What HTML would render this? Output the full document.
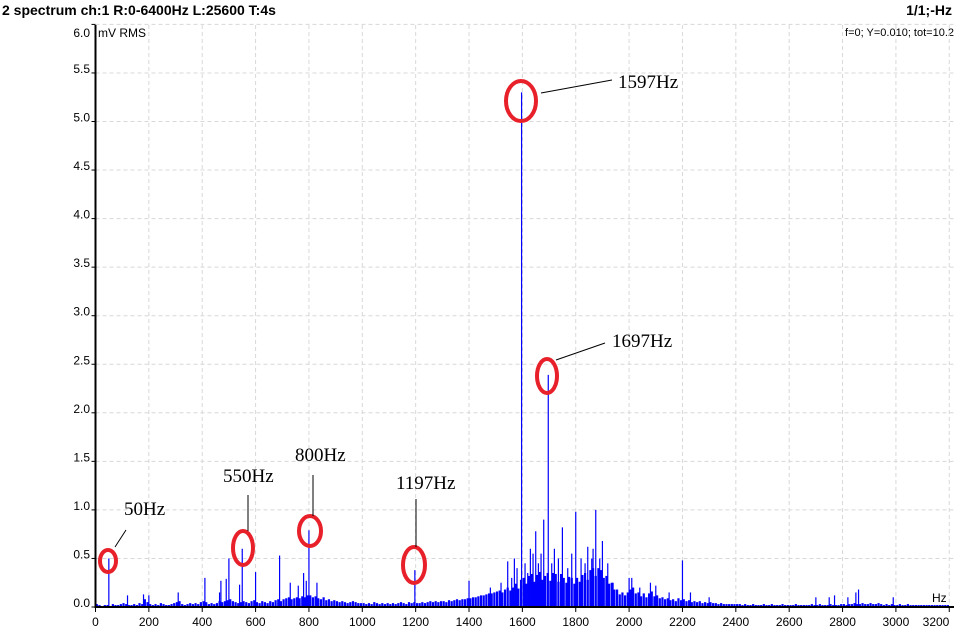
<!DOCTYPE html>
<html><head><meta charset="utf-8"><style>
html,body{margin:0;padding:0;background:#fff;}
svg{display:block;font-family:"Liberation Sans",sans-serif;}
</style></head><body>
<svg id="chart" width="954" height="628" viewBox="0 0 954 628" xmlns="http://www.w3.org/2000/svg">
<text x="2" y="15" font-size="14" font-weight="bold">2 spectrum ch:1 R:0-6400Hz L:25600 T:4s</text>
<text x="952" y="15" font-size="14" font-weight="bold" text-anchor="end">1/1;-Hz</text>
<text x="954" y="36" font-size="11" text-anchor="end">f=0; Y=0.010; tot=10.2</text>
<g id="grid"></g>
<g id="bars"></g>
<g id="axes"></g>
<text x="98" y="37" font-size="12">mV RMS</text>
<text x="932" y="602" font-size="12">Hz</text>
<g fill="none" stroke="#e8202a" stroke-width="4">
<ellipse cx="108" cy="561" rx="8" ry="11"/>
<ellipse cx="243" cy="548" rx="10" ry="17"/>
<ellipse cx="310" cy="531" rx="11" ry="15"/>
<ellipse cx="414" cy="565" rx="11" ry="18"/>
<ellipse cx="521" cy="101" rx="15" ry="20"/>
<ellipse cx="547" cy="376" rx="10" ry="17"/>
</g>
<g stroke="#000" stroke-width="1">
<line x1="115" y1="547" x2="126" y2="530"/>
<line x1="248" y1="531" x2="248" y2="495"/>
<line x1="313" y1="516" x2="313" y2="475"/>
<line x1="416" y1="547" x2="416" y2="499"/>
<line x1="541" y1="93" x2="612" y2="80"/>
<line x1="556" y1="360" x2="605" y2="343"/>
</g>
<g font-family="'Liberation Serif',serif" font-size="19">
<text x="124" y="515">50Hz</text>
<text x="223" y="482">550Hz</text>
<text x="295" y="461">800Hz</text>
<text x="396" y="489">1197Hz</text>
<text x="618" y="88">1597Hz</text>
<text x="612" y="347">1697Hz</text>
</g>
</svg>
<script>
// noise floor, hundredths of mV, one value per 10 Hz bin from 0 Hz
const noiseFloor = [
3,2,1,2,2,1,3,2,2,3, 4,3,2,2,3,2,4,3,8,5, 3,2,3,2,4,3,2,2,3,4, 5,6,3,2,3,4,3,4,3,5,
6,5,3,4,3,4,6,5,6,7, 8,6,5,4,5,6,5,4,6,7, 5,4,6,5,4,6,5,7,8,6, 8,9,10,8,9,10,9,11,10,12,
12,10,11,9,8,10,7,8,6,7, 6,5,6,5,4,5,6,5,4,4, 4,3,4,3,5,4,3,4,3,4, 3,4,3,4,5,4,3,5,4,5,
4,4,5,4,5,6,5,6,5,6, 6,5,7,6,7,8,7,8,8,9, 9,10,10,11,12,12,13,14,14,15, 16,17,15,18,20,17,20,24,19,28,
30,24,32,34,26,33,36,28,32,35, 27,35,34,26,34,30,25,31,30,24, 30,26,33,35,28,38,40,32,40,38, 30,32,24,25,18,18,13,15,12,15,
18,20,14,15,11,14,10,14,16,11, 12,9,10,8,9,7,8,6,9,7, 8,6,7,5,6,5,6,4,5,4, 5,4,4,3,4,3,3,3,3,3,
3,3,2,3,2,2,3,2,2,2, 3,2,2,3,2,2,2,3,2,2, 2,2,3,2,2,2,2,2,3,2, 2,3,2,2,2,3,2,2,2,3,
3,2,3,3,4,3,3,4,3,3, 4,3,3,4,3,2,3,2,3,2, 2,3,2,2,3,2,2,2,2,2, 2,2,2,2,2,2,2,2,2,2];
// discrete peaks
const peakHz = [50,120,180,200,310,410,465,470,490,500,540,550,600,690,730,760,780,790,800,830,1197,1400,1480,1520,1545,1560,1570,1580,1597,1610,1620,1630,1640,1650,1660,1670,1680,1697,1710,1720,1735,1750,1770,1785,1800,1820,1835,1845,1860,1865,1875,1890,1900,1920,1940,2000,2010,2040,2080,2100,2150,2200,2230,2300,2700,2750,2770,2820,2850,2860,2990];
const peakVal = [0.5,0.12,0.13,0.12,0.15,0.3,0.15,0.27,0.29,0.5,0.23,0.6,0.36,0.53,0.25,0.22,0.35,0.27,0.79,0.25,0.38,0.27,0.2,0.25,0.47,0.3,0.5,0.4,5.3,0.45,0.35,0.6,0.55,0.78,0.45,0.55,0.9,2.39,0.45,0.6,0.5,0.82,0.4,0.55,0.98,0.5,0.45,0.62,0.5,0.6,1.0,0.5,0.68,0.45,0.25,0.3,0.3,0.2,0.25,0.22,0.15,0.48,0.15,0.1,0.1,0.1,0.12,0.1,0.15,0.18,0.1];
const xTicks = [0,200,400,600,800,1000,1200,1400,1600,1800,2000,2200,2400,2600,2800,3000,3200];
const yTicks = [0,0.5,1,1.5,2,2.5,3,3.5,4,4.5,5,5.5,6];
const yTickLabels = ["0.0","0.5","1.0","1.5","2.0","2.5","3.0","3.5","4.0","4.5","5.0","5.5","6.0"];

const NS='http://www.w3.org/2000/svg';
const X0=95.5, XS=0.2668, Y0=607, YS=97.1;
function xPos(hz){return X0+hz*XS;}
function yPos(v){return Y0-v*YS;}
function mk(tag,attrs,parent){const e=document.createElementNS(NS,tag);for(const k in attrs)e.setAttribute(k,attrs[k]);parent.appendChild(e);return e;}
const grid=document.getElementById('grid'),bars=document.getElementById('bars'),axes=document.getElementById('axes');

xTicks.forEach(t=>{
  if(t>0){const l=mk('line',{x1:xPos(t),x2:xPos(t),y1:25,y2:Y0,stroke:'#d8d8d8','stroke-dasharray':'4,3'},grid);
  
  }
  const tk=mk('line',{x1:xPos(t),x2:xPos(t),y1:Y0,y2:Y0+5,stroke:'#000'},axes);
  
  
  const tx=mk('text',{x:Math.min(xPos(t),936),y:626,'font-size':12,'text-anchor':'middle'},axes);
  tx.textContent=t;
  
  
});
yTicks.forEach((t,i)=>{
  if(t>0){const l=mk('line',{x1:X0,x2:954,y1:yPos(t),y2:yPos(t),stroke:'#d8d8d8','stroke-dasharray':'4,3'},grid);
  
  }
  const tk=mk('line',{x1:X0-4,x2:X0,y1:yPos(t),y2:yPos(t),stroke:'#000'},axes);
  
  
  const ty=(t===6)?37:yPos(t);
  const tx=mk('text',{x:90,y:ty,'font-size':12,'text-anchor':'end'},axes);
  tx.textContent=yTickLabels[i];
  
  
});
noiseFloor.forEach((v,i)=>{
  const x=xPos(i*10+5);
  const b=mk('line',{x1:x,x2:x,y1:Y0,y2:yPos(v/100),stroke:'#0000ff','stroke-width':2.2},bars);
  
  
});
peakHz.forEach((hz,i)=>{
  const x=xPos(hz);
  const b=mk('line',{x1:x,x2:x,y1:Y0,y2:yPos(peakVal[i]),stroke:'#0000ff','stroke-width':1.2},bars);
  
  
});
const ya=mk('line',{x1:X0,x2:X0,y1:25,y2:Y0+1,stroke:'#000','stroke-width':2},axes);


const xa=mk('line',{x1:X0-1,x2:954,y1:Y0,y2:Y0,stroke:'#000','stroke-width':2},axes);


</script>
</body></html>
